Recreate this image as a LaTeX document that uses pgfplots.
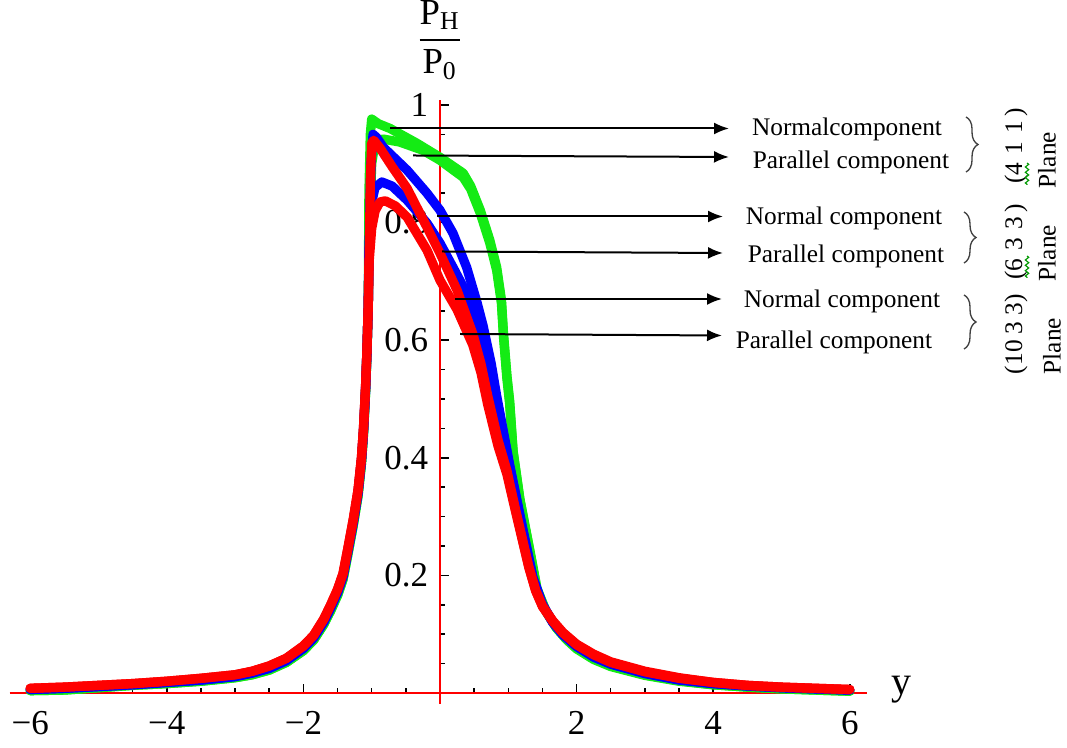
\documentclass[border=0pt]{standalone}
\usepackage{amsmath}
\usepackage{fontspec}
\setmainfont{Liberation Serif}
\usepackage{pgfplots}
\pgfplotsset{compat=1.18}
\usetikzlibrary{arrows.meta,decorations.pathreplacing,decorations.pathmorphing}
\definecolor{cGreen}{RGB}{20,235,20}
\definecolor{cBlue}{RGB}{0,0,255}
\definecolor{cRed}{RGB}{255,0,0}

\begin{document}
\begin{tikzpicture}
% picture frame = reference pixels (1px = 0.3pt), axis origin at px (440,693)
\path[use as bounding box] (-132pt,-16.2pt) rectangle (188.1pt,207.9pt);

\begin{axis}[
  at={(-129.09pt,-3.175pt)}, anchor=south west,
  x=20.49pt, y=176.4pt,
  xmin=-6.3, xmax=6.25, ymin=-0.018, ymax=1.0085,
  enlargelimits=false,
  clip=false,
  axis lines=middle,
  axis line style={draw=cRed, line width=0.45pt, -},
  tick align=inside,
  tick style={black, line width=0.45pt},
  major tick length=2.6pt, minor tick length=1.6pt,
  xtick={-6,-4,-2,2,4,6},
  xticklabels={−6,−4,−2,2,4,6},
  minor xtick={-5.5,-5,-4.5,-3.5,-3,-2.5,-1.5,-1,-0.5,0.5,1,1.5,2.5,3,3.5,4.5,5,5.5},
  ytick={0.2,0.4,0.6,0.8,1},
  yticklabels={0.2,0.4,0.6,0.8,1},
  minor ytick={0.05,0.1,0.15,0.25,0.3,0.35,0.45,0.5,0.55,0.65,0.7,0.75,0.85,0.9,0.95},
  tick label style={font=\fontsize{10.5}{12}\selectfont},
  xticklabel style={anchor=north, yshift=-2pt},
  yticklabel style={anchor=east},
  every axis plot/.append style={line width=2.8pt, line join=round, line cap=round, no marks},
]
% (4 1 1) plane, normal and parallel
\addplot[cGreen] coordinates {
(-6.0,0.004) (-5.5,0.005) (-5.0,0.009) (-4.5,0.013) (-4.0,0.016) (-3.5,0.020)
(-3.0,0.026) (-2.75,0.031) (-2.5,0.039) (-2.25,0.052) (-2.0,0.072) (-1.85,0.090)
(-1.7,0.117) (-1.6,0.140) (-1.5,0.166) (-1.42,0.193) (-1.35,0.235) (-1.27,0.285)
(-1.2,0.335) (-1.15,0.39) (-1.12,0.44) (-1.09,0.51) (-1.07,0.575) (-1.05,0.66)
(-1.04,0.85) (-1.02,0.95) (-1.0,0.976) (-0.9,0.968) (-0.73,0.96) (-0.34,0.935)
(0,0.911) (0.34,0.884) (0.45,0.862) (0.59,0.821) (0.73,0.77) (0.83,0.724)
(0.9,0.668) (0.93,0.611) (0.98,0.54) (1.02,0.497) (1.07,0.412) (1.17,0.33)
(1.32,0.24) (1.42,0.178) (1.55,0.140) (1.7,0.112) (1.85,0.092) (2.0,0.076)
(2.25,0.058) (2.5,0.046) (3.0,0.031) (3.5,0.021) (4.0,0.014) (4.5,0.010)
(5.0,0.007) (5.5,0.005) (6.0,0.003)};
\addplot[cGreen] coordinates {
(-6.0,0.004) (-5.5,0.005) (-5.0,0.009) (-4.5,0.013) (-4.0,0.016) (-3.5,0.020)
(-3.0,0.026) (-2.75,0.031) (-2.5,0.039) (-2.25,0.052) (-2.0,0.072) (-1.85,0.090)
(-1.7,0.117) (-1.6,0.140) (-1.5,0.166) (-1.42,0.193) (-1.35,0.235) (-1.27,0.285)
(-1.2,0.335) (-1.15,0.39) (-1.12,0.44) (-1.09,0.51) (-1.07,0.575) (-1.05,0.66)
(-1.03,0.80) (-1.0,0.90) (-0.96,0.93) (-0.9,0.94) (-0.83,0.942) (-0.59,0.937)
(-0.25,0.923) (0,0.906) (0.34,0.877) (0.45,0.857) (0.59,0.816) (0.73,0.765)
(0.83,0.719) (0.9,0.663) (0.93,0.606) (0.98,0.535) (1.02,0.492) (1.07,0.41)
(1.17,0.328) (1.32,0.238) (1.42,0.176) (1.55,0.139) (1.7,0.111) (1.85,0.091)
(2.0,0.075) (2.25,0.057) (2.5,0.045) (3.0,0.030) (3.5,0.020) (4.0,0.014)
(4.5,0.010) (5.0,0.007) (5.5,0.005) (6.0,0.003)};
% (6 3 3) plane
\addplot[cBlue] coordinates {
(-6.0,0.006) (-5.5,0.008) (-5.0,0.011) (-4.5,0.014) (-4.0,0.018) (-3.5,0.022)
(-3.0,0.028) (-2.75,0.034) (-2.5,0.042) (-2.25,0.055) (-2.0,0.076) (-1.85,0.094)
(-1.7,0.121) (-1.6,0.145) (-1.5,0.171) (-1.42,0.198) (-1.35,0.240) (-1.27,0.290)
(-1.2,0.340) (-1.15,0.395) (-1.12,0.445) (-1.09,0.515) (-1.07,0.578) (-1.05,0.66)
(-1.03,0.80) (-1.01,0.90) (-0.98,0.95) (-0.93,0.945) (-0.83,0.928) (-0.48,0.889)
(-0.19,0.85) (0,0.821) (0.19,0.782) (0.39,0.724) (0.54,0.665) (0.63,0.625)
(0.75,0.56) (0.83,0.505) (1.02,0.388) (1.22,0.275) (1.36,0.197) (1.5,0.151)
(1.65,0.121) (1.8,0.100) (2.0,0.080) (2.25,0.062) (2.5,0.050) (3.0,0.034)
(3.5,0.023) (4.0,0.016) (4.5,0.012) (5.0,0.009) (5.5,0.007) (6.0,0.005)};
\addplot[cBlue] coordinates {
(-6.0,0.006) (-5.5,0.008) (-5.0,0.011) (-4.5,0.014) (-4.0,0.018) (-3.5,0.022)
(-3.0,0.028) (-2.75,0.034) (-2.5,0.042) (-2.25,0.055) (-2.0,0.076) (-1.85,0.094)
(-1.7,0.121) (-1.6,0.145) (-1.5,0.171) (-1.42,0.198) (-1.35,0.240) (-1.27,0.290)
(-1.2,0.340) (-1.15,0.395) (-1.12,0.445) (-1.09,0.515) (-1.07,0.578) (-1.05,0.66)
(-1.04,0.75) (-1.01,0.83) (-0.95,0.86) (-0.85,0.869) (-0.7,0.862) (-0.48,0.838)
(-0.19,0.799) (0,0.765) (0.19,0.724) (0.39,0.68) (0.54,0.635) (0.63,0.60)
(0.75,0.545) (0.83,0.50) (1.02,0.385) (1.22,0.273) (1.36,0.196) (1.5,0.150)
(1.65,0.120) (1.8,0.099) (2.0,0.079) (2.25,0.061) (2.5,0.049) (3.0,0.033)
(3.5,0.022) (4.0,0.016) (4.5,0.012) (5.0,0.009) (5.5,0.007) (6.0,0.005)};
% (10 3 3) plane
\addplot[cRed] coordinates {
(-6.0,0.008) (-5.5,0.010) (-5.0,0.013) (-4.5,0.016) (-4.0,0.020) (-3.5,0.025)
(-3.0,0.031) (-2.75,0.037) (-2.5,0.046) (-2.25,0.059) (-2.0,0.080) (-1.85,0.098)
(-1.7,0.126) (-1.6,0.150) (-1.5,0.176) (-1.42,0.203) (-1.35,0.245) (-1.27,0.295)
(-1.2,0.345) (-1.15,0.40) (-1.12,0.45) (-1.09,0.52) (-1.07,0.58) (-1.05,0.66)
(-1.03,0.78) (-1.02,0.87) (-1.0,0.935) (-0.97,0.94) (-0.88,0.927) (-0.7,0.895)
(-0.48,0.858) (-0.19,0.792) (0,0.748) (0.25,0.685) (0.48,0.611) (0.6,0.56)
(0.7,0.505) (0.85,0.43) (0.98,0.378) (1.1,0.315) (1.2,0.265) (1.3,0.215)
(1.4,0.175) (1.5,0.148) (1.65,0.123) (1.8,0.103) (2.0,0.083) (2.25,0.066)
(2.5,0.053) (3.0,0.037) (3.5,0.026) (4.0,0.018) (4.5,0.013) (5.0,0.010)
(5.5,0.008) (6.0,0.006)};
\addplot[cRed] coordinates {
(-6.0,0.008) (-5.5,0.010) (-5.0,0.013) (-4.5,0.016) (-4.0,0.020) (-3.5,0.025)
(-3.0,0.031) (-2.75,0.037) (-2.5,0.046) (-2.25,0.059) (-2.0,0.080) (-1.85,0.098)
(-1.7,0.126) (-1.6,0.150) (-1.5,0.176) (-1.42,0.203) (-1.35,0.245) (-1.27,0.295)
(-1.2,0.345) (-1.15,0.40) (-1.12,0.45) (-1.09,0.52) (-1.07,0.58) (-1.05,0.66)
(-1.04,0.73) (-1.0,0.79) (-0.95,0.82) (-0.88,0.835) (-0.8,0.837) (-0.65,0.828)
(-0.48,0.809) (-0.19,0.753) (0,0.702) (0.25,0.652) (0.48,0.592) (0.6,0.545)
(0.7,0.49) (0.85,0.42) (0.98,0.372) (1.1,0.312) (1.2,0.263) (1.3,0.214)
(1.4,0.174) (1.5,0.147) (1.65,0.122) (1.8,0.102) (2.0,0.082) (2.25,0.065)
(2.5,0.052) (3.0,0.036) (3.5,0.025) (4.0,0.018) (4.5,0.013) (5.0,0.010)
(5.5,0.008) (6.0,0.006)};
\end{axis}

% annotations, in reference pixels
\begin{scope}[x=0.3pt,y=-0.3pt,shift={(-132pt,207.9pt)}]
\node at (901,690) {\fontsize{12}{14}\selectfont y};
\node at (440,40) {\fontsize{11}{13}\selectfont $\dfrac{\text{P}_{\text{H}}}{\text{P}_{\text{0}}}$};
\begin{scope}[line width=0.6pt, -{Latex[length=4.5pt,width=3.6pt]}]
\draw (390,128.5) -- (729,128.5);
\draw (413,155.5) -- (729,157);
\draw (437,216.5) -- (723,216.5);
\draw (442,251.5) -- (723,253);
\draw (455,299) -- (722,299);
\draw (460,334) -- (722,335.5);
\end{scope}
\begin{scope}[font=\fontsize{7.6}{9}\selectfont]
\node at (847,129) {Normalcomponent};
\node at (851,162) {Parallel component};
\node at (844,218) {Normal component};
\node at (846,256) {Parallel component};
\node at (842,301) {Normal component};
\node at (834,342) {Parallel component};
\node[rotate=90] at (1016,146) {(4\,\,1\,\,1\,)};
\node[rotate=90] at (1047,160) {Plane};
\node[rotate=90] at (1016,242) {(6\,\,3\,\,3\,)};
\node[rotate=90] at (1047,253) {Plane};
\node[rotate=90] at (1016,334) {(10 3 3)};
\node[rotate=90] at (1052,346) {Plane};
\end{scope}
\begin{scope}[draw=black!75, line width=0.4pt, decoration={brace, amplitude=3.6pt}]
\draw[decorate] (966,117) -- (966,172);
\draw[decorate] (964,212) -- (964,263);
\draw[decorate] (964,295) -- (964,349);
\end{scope}
\begin{scope}[draw=green!60!black, line width=0.35pt, decoration={zigzag, segment length=1.6pt, amplitude=0.5pt}]
\draw[decorate] (1027,163) -- (1027,185);
\draw[decorate] (1027,256) -- (1027,278);
\end{scope}
\end{scope}
\end{tikzpicture}
\end{document}
